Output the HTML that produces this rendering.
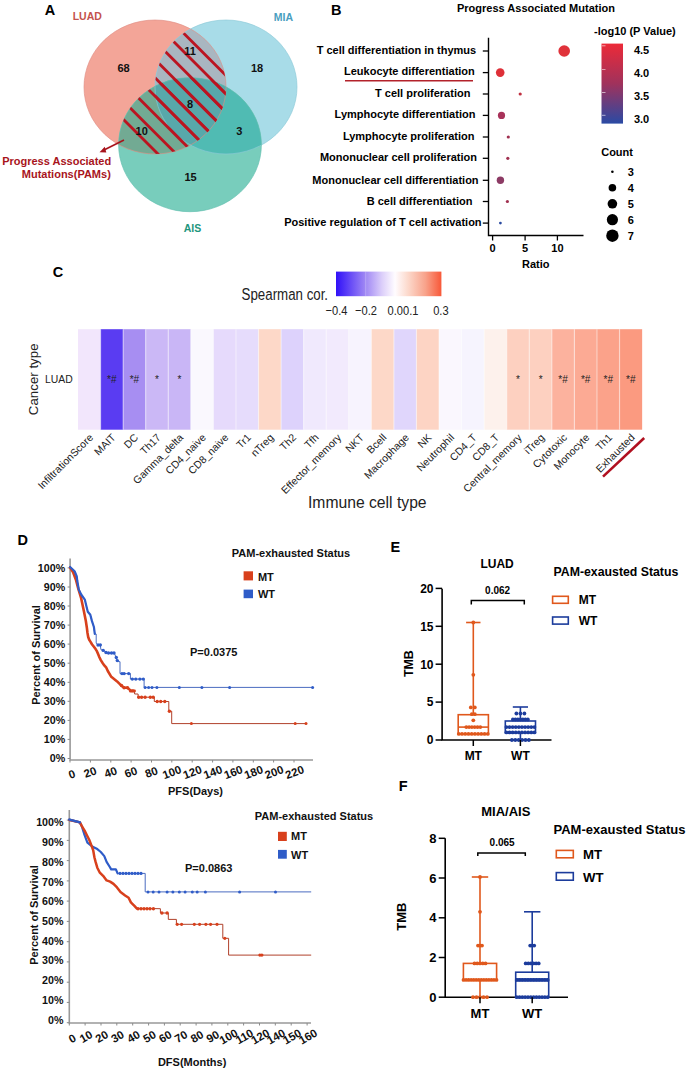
<!DOCTYPE html>
<html><head><meta charset="utf-8"><title>Figure</title>
<style>html,body{margin:0;padding:0;background:#fff;}svg{display:block;}</style>
</head><body>
<svg width="690" height="1070" viewBox="0 0 690 1070" font-family="'Liberation Sans', Arial, sans-serif">
<rect width="690" height="1070" fill="#fff"/>
<defs>
<clipPath id="cL"><ellipse cx="155" cy="87" rx="71" ry="67" fill="#000" /></clipPath>
<clipPath id="cM"><ellipse cx="226" cy="87" rx="71" ry="67" fill="#000" /></clipPath>
<clipPath id="cS"><ellipse cx="190" cy="144.7" rx="71.4" ry="67" fill="#000" /></clipPath>
</defs>
<ellipse cx="155" cy="87" rx="71" ry="67" fill="#f3a598" />
<ellipse cx="226" cy="87" rx="71" ry="67" fill="#a8dce8" />
<ellipse cx="190" cy="144.7" rx="71.4" ry="67" fill="#78cdbc" />
<g clip-path="url(#cL)"><ellipse cx="226" cy="87" rx="71" ry="67" fill="#a9b6c0" /><ellipse cx="190" cy="144.7" rx="71.4" ry="67" fill="#72aa93" /></g>
<g clip-path="url(#cM)"><ellipse cx="190" cy="144.7" rx="71.4" ry="67" fill="#50bbb3" /></g>
<g clip-path="url(#cL)"><g clip-path="url(#cM)"><ellipse cx="190" cy="144.7" rx="71.4" ry="67" fill="#58a8aa" /></g></g>
<ellipse cx="155" cy="87" rx="71" ry="67" fill="none" stroke="#e08e84" stroke-width="0.8" opacity="0.8"/>
<ellipse cx="226" cy="87" rx="71" ry="67" fill="none" stroke="#8ccad8" stroke-width="0.8" opacity="0.8"/>
<ellipse cx="190" cy="144.7" rx="71.4" ry="67" fill="none" stroke="#62beae" stroke-width="0.8" opacity="0.8"/>
<g clip-path="url(#cL)">
<g clip-path="url(#cM)"><g stroke="#bb1420" stroke-width="2.8"><line x1="-56.0" y1="-60.0" x2="264.0" y2="260" /><line x1="-37.7" y1="-60.0" x2="282.3" y2="260" /><line x1="-19.4" y1="-60.0" x2="300.6" y2="260" /><line x1="-1.1" y1="-60.0" x2="318.9" y2="260" /><line x1="17.2" y1="-60.0" x2="337.2" y2="260" /><line x1="35.5" y1="-60.0" x2="355.5" y2="260" /><line x1="53.8" y1="-60.0" x2="373.8" y2="260" /><line x1="72.1" y1="-60.0" x2="392.1" y2="260" /><line x1="90.4" y1="-60.0" x2="410.4" y2="260" /></g></g>
<g clip-path="url(#cS)"><g stroke="#bb1420" stroke-width="2.8"><line x1="-56.0" y1="-60.0" x2="264.0" y2="260" /><line x1="-37.7" y1="-60.0" x2="282.3" y2="260" /><line x1="-19.4" y1="-60.0" x2="300.6" y2="260" /><line x1="-1.1" y1="-60.0" x2="318.9" y2="260" /><line x1="17.2" y1="-60.0" x2="337.2" y2="260" /><line x1="35.5" y1="-60.0" x2="355.5" y2="260" /><line x1="53.8" y1="-60.0" x2="373.8" y2="260" /><line x1="72.1" y1="-60.0" x2="392.1" y2="260" /><line x1="90.4" y1="-60.0" x2="410.4" y2="260" /></g></g>
</g>
<text x="44.7" y="15.2" font-size="14.5" font-weight="bold" text-anchor="start" fill="#000" >A</text>
<text x="72.7" y="19.9" font-size="10.5" font-weight="bold" text-anchor="start" fill="#c4524c" >LUAD</text>
<text x="273.8" y="20.8" font-size="10.5" font-weight="bold" text-anchor="start" fill="#4a9ec0" >MIA</text>
<text x="192.5" y="232.2" font-size="10.5" font-weight="bold" text-anchor="middle" fill="#1f967e" >AIS</text>
<text x="123.6" y="71.9" font-size="11" font-weight="bold" text-anchor="middle" fill="#111" >68</text>
<text x="190.1" y="54.7" font-size="11" font-weight="bold" text-anchor="middle" fill="#111" >11</text>
<text x="257.1" y="71.5" font-size="11" font-weight="bold" text-anchor="middle" fill="#111" >18</text>
<text x="190.1" y="107.9" font-size="11" font-weight="bold" text-anchor="middle" fill="#111" >8</text>
<text x="239.2" y="134.8" font-size="11" font-weight="bold" text-anchor="middle" fill="#111" >3</text>
<text x="141.7" y="134.9" font-size="11" font-weight="bold" text-anchor="middle" fill="#111" >10</text>
<text x="190.5" y="181.0" font-size="11" font-weight="bold" text-anchor="middle" fill="#111" >15</text>
<text x="111.2" y="165.4" font-size="11" font-weight="bold" text-anchor="end" fill="#a8141c" >Progress Associated</text>
<text x="110.8" y="178.2" font-size="11" font-weight="bold" text-anchor="end" fill="#a8141c" >Mutations(PAMs)</text>
<line x1="124" y1="140" x2="103.5" y2="150.3" stroke="#a8141c" stroke-width="1.6"/>
<polygon points="99.5,152.3 104.8,146.7 106.3,152.4" fill="#a8141c"/>
<text x="330.9" y="14.8" font-size="14.5" font-weight="bold" text-anchor="start" fill="#000" >B</text>
<text x="457.0" y="11.8" font-size="11" font-weight="bold" text-anchor="start" fill="#000" >Progress Associated Mutation</text>
<text x="476.2" y="53.6" font-size="11" font-weight="bold" text-anchor="end" fill="#000" >T cell differentiation in thymus</text>
<line x1="482.8" y1="51.0" x2="488.5" y2="51.0" stroke="#000" stroke-width="1.3"/>
<text x="474.8" y="75.2" font-size="11" font-weight="bold" text-anchor="end" fill="#000" >Leukocyte differentiation</text>
<line x1="482.8" y1="72.6" x2="488.5" y2="72.6" stroke="#000" stroke-width="1.3"/>
<text x="470.4" y="96.6" font-size="11" font-weight="bold" text-anchor="end" fill="#000" >T cell proliferation</text>
<line x1="482.8" y1="94.0" x2="488.5" y2="94.0" stroke="#000" stroke-width="1.3"/>
<text x="475.4" y="118.0" font-size="11" font-weight="bold" text-anchor="end" fill="#000" >Lymphocyte differentiation</text>
<line x1="482.8" y1="115.4" x2="488.5" y2="115.4" stroke="#000" stroke-width="1.3"/>
<text x="474.5" y="139.6" font-size="11" font-weight="bold" text-anchor="end" fill="#000" >Lymphocyte proliferation</text>
<line x1="482.8" y1="137.0" x2="488.5" y2="137.0" stroke="#000" stroke-width="1.3"/>
<text x="477.0" y="160.9" font-size="11" font-weight="bold" text-anchor="end" fill="#000" >Mononuclear cell proliferation</text>
<line x1="482.8" y1="158.3" x2="488.5" y2="158.3" stroke="#000" stroke-width="1.3"/>
<text x="478.6" y="184.1" font-size="11" font-weight="bold" text-anchor="end" fill="#000" >Mononuclear cell differentiation</text>
<line x1="482.8" y1="180.3" x2="488.5" y2="180.3" stroke="#000" stroke-width="1.3"/>
<text x="472.4" y="204.8" font-size="11" font-weight="bold" text-anchor="end" fill="#000" >B cell differentiation</text>
<line x1="482.8" y1="201.5" x2="488.5" y2="201.5" stroke="#000" stroke-width="1.3"/>
<text x="481.6" y="225.9" font-size="11" font-weight="bold" text-anchor="end" fill="#000" >Positive regulation of T cell activation</text>
<line x1="482.8" y1="223.1" x2="488.5" y2="223.1" stroke="#000" stroke-width="1.3"/>
<line x1="345" y1="80.7" x2="473" y2="80.7" stroke="#b3222b" stroke-width="1.6"/>
<polyline points="488.5,37.8 488.5,235.5 583.5,235.5" fill="none" stroke="#000" stroke-width="1.4"/>
<line x1="492.6" y1="235.5" x2="492.6" y2="240.5" stroke="#000" stroke-width="1.3"/>
<text x="492.6" y="252.0" font-size="11" font-weight="bold" text-anchor="middle" fill="#000" >0</text>
<line x1="525.1" y1="235.5" x2="525.1" y2="240.5" stroke="#000" stroke-width="1.3"/>
<text x="525.1" y="252.0" font-size="11" font-weight="bold" text-anchor="middle" fill="#000" >5</text>
<line x1="557.4" y1="235.5" x2="557.4" y2="240.5" stroke="#000" stroke-width="1.3"/>
<text x="557.4" y="252.0" font-size="11" font-weight="bold" text-anchor="middle" fill="#000" >10</text>
<text x="535.8" y="268.0" font-size="11" font-weight="bold" text-anchor="middle" fill="#000" >Ratio</text>
<circle cx="564.2" cy="51.0" r="5.8" fill="#e0323a"/>
<circle cx="500.2" cy="72.6" r="4.3" fill="#de3038"/>
<circle cx="520.2" cy="94.0" r="1.6" fill="#c03040"/>
<circle cx="501.5" cy="115.4" r="3.6" fill="#a8325a"/>
<circle cx="508.3" cy="137.0" r="1.6" fill="#a03050"/>
<circle cx="507.8" cy="158.3" r="1.6" fill="#a03050"/>
<circle cx="500.4" cy="180.3" r="3.7" fill="#8c3a64"/>
<circle cx="507.4" cy="201.5" r="1.6" fill="#a03050"/>
<circle cx="500.4" cy="223.1" r="1.4" fill="#2a4aa0"/>
<defs><linearGradient id="gB" x1="0" y1="0" x2="0" y2="1"><stop offset="0" stop-color="#ec2a38"/><stop offset="0.5" stop-color="#a0325c"/><stop offset="1" stop-color="#2a4aa4"/></linearGradient></defs>
<rect x="601.5" y="43.6" width="21.5" height="80" fill="url(#gB)"/>
<line x1="602" y1="45.8" x2="605.5" y2="45.8" stroke="#fff" stroke-width="0.8" opacity="0.75"/>
<line x1="602" y1="69.4" x2="605.5" y2="69.4" stroke="#fff" stroke-width="0.8" opacity="0.75"/>
<line x1="602" y1="92.5" x2="605.5" y2="92.5" stroke="#fff" stroke-width="0.8" opacity="0.75"/>
<line x1="602" y1="115.3" x2="605.5" y2="115.3" stroke="#fff" stroke-width="0.8" opacity="0.75"/>
<text x="594.0" y="35.2" font-size="11" font-weight="bold" text-anchor="start" fill="#000" >-log10 (P Value)</text>
<text x="633.9" y="54.3" font-size="11" font-weight="bold" text-anchor="start" fill="#000" >4.5</text>
<text x="633.9" y="77.4" font-size="11" font-weight="bold" text-anchor="start" fill="#000" >4.0</text>
<text x="633.9" y="100.2" font-size="11" font-weight="bold" text-anchor="start" fill="#000" >3.5</text>
<text x="633.9" y="122.8" font-size="11" font-weight="bold" text-anchor="start" fill="#000" >3.0</text>
<text x="601.2" y="155.5" font-size="11" font-weight="bold" text-anchor="start" fill="#000" >Count</text>
<circle cx="612.4" cy="171.8" r="1.3" fill="#000"/>
<text x="627.8" y="175.8" font-size="11" font-weight="bold" text-anchor="start" fill="#000" >3</text>
<circle cx="612.4" cy="187.7" r="3.8" fill="#000"/>
<text x="627.8" y="191.7" font-size="11" font-weight="bold" text-anchor="start" fill="#000" >4</text>
<circle cx="612.4" cy="203.8" r="4.8" fill="#000"/>
<text x="627.8" y="207.8" font-size="11" font-weight="bold" text-anchor="start" fill="#000" >5</text>
<circle cx="612.4" cy="219.7" r="5.6" fill="#000"/>
<text x="627.8" y="223.7" font-size="11" font-weight="bold" text-anchor="start" fill="#000" >6</text>
<circle cx="612.4" cy="235.7" r="6.2" fill="#000"/>
<text x="627.8" y="239.7" font-size="11" font-weight="bold" text-anchor="start" fill="#000" >7</text>
<text x="52.7" y="277.2" font-size="14.5" font-weight="bold" text-anchor="start" fill="#000" >C</text>
<defs><linearGradient id="gC" x1="0" y1="0" x2="1" y2="0"><stop offset="0" stop-color="#3010f8"/><stop offset="0.28" stop-color="#a088f4"/><stop offset="0.44" stop-color="#ddd0fa"/><stop offset="0.56" stop-color="#fffcff"/><stop offset="0.68" stop-color="#fcdacd"/><stop offset="0.85" stop-color="#f8a28a"/><stop offset="1" stop-color="#f85838"/></linearGradient></defs>
<rect x="336" y="271.6" width="105.4" height="24.6" fill="url(#gC)"/>
<line x1="365.7" y1="271.6" x2="365.7" y2="296.2" stroke="#fff" stroke-width="0.8" opacity="0.3"/>
<text x="0" y="0" font-size="13.3" fill="#222" transform="translate(241.6 300.2) scale(1 1.22)">Spearman cor.</text>
<text x="0" y="0" font-size="11.1" fill="#222" text-anchor="middle" transform="translate(336.5 314.8) scale(1 1.19)">−0.4</text>
<text x="0" y="0" font-size="11.1" fill="#222" text-anchor="middle" transform="translate(366 314.8) scale(1 1.19)">−0.2</text>
<text x="0" y="0" font-size="11.1" fill="#222" text-anchor="middle" transform="translate(403 314.8) scale(1 1.19)">0.00.1</text>
<text x="0" y="0" font-size="11.1" fill="#222" text-anchor="middle" transform="translate(440.9 314.8) scale(1 1.19)">0.3</text>
<rect x="78.00" y="329.2" width="22.61" height="100.5" fill="#f2e6fc"/>
<rect x="100.56" y="329.2" width="22.61" height="100.5" fill="#5a3cf2"/>
<rect x="123.13" y="329.2" width="22.61" height="100.5" fill="#a78ef2"/>
<rect x="145.69" y="329.2" width="22.61" height="100.5" fill="#cbb8f6"/>
<rect x="168.26" y="329.2" width="22.61" height="100.5" fill="#c9b6f6"/>
<rect x="190.82" y="329.2" width="22.61" height="100.5" fill="#faf8fe"/>
<rect x="213.38" y="329.2" width="22.61" height="100.5" fill="#e6dafc"/>
<rect x="235.95" y="329.2" width="22.61" height="100.5" fill="#e6dcfc"/>
<rect x="258.51" y="329.2" width="22.61" height="100.5" fill="#fdd8c8"/>
<rect x="281.08" y="329.2" width="22.61" height="100.5" fill="#ddd2fc"/>
<rect x="303.64" y="329.2" width="22.61" height="100.5" fill="#f0e9fd"/>
<rect x="326.20" y="329.2" width="22.61" height="100.5" fill="#f2eafd"/>
<rect x="348.77" y="329.2" width="22.61" height="100.5" fill="#f7f3fe"/>
<rect x="371.33" y="329.2" width="22.61" height="100.5" fill="#fdd8c8"/>
<rect x="393.90" y="329.2" width="22.61" height="100.5" fill="#e0d6fc"/>
<rect x="416.46" y="329.2" width="22.61" height="100.5" fill="#fdd4c4"/>
<rect x="439.02" y="329.2" width="22.61" height="100.5" fill="#faf7fe"/>
<rect x="461.59" y="329.2" width="22.61" height="100.5" fill="#f6f4fe"/>
<rect x="484.15" y="329.2" width="22.61" height="100.5" fill="#fdf1ec"/>
<rect x="506.72" y="329.2" width="22.61" height="100.5" fill="#fdd0c0"/>
<rect x="529.28" y="329.2" width="22.61" height="100.5" fill="#fdd0c0"/>
<rect x="551.84" y="329.2" width="22.61" height="100.5" fill="#fcb29e"/>
<rect x="574.41" y="329.2" width="22.61" height="100.5" fill="#fcaa94"/>
<rect x="596.97" y="329.2" width="22.61" height="100.5" fill="#fba28a"/>
<rect x="619.54" y="329.2" width="22.61" height="100.5" fill="#fb9a80"/>
<line x1="100.56" y1="329.2" x2="100.56" y2="429.7" stroke="#fff" stroke-width="1.2" opacity="0.45"/>
<line x1="123.13" y1="329.2" x2="123.13" y2="429.7" stroke="#fff" stroke-width="1.2" opacity="0.45"/>
<line x1="145.69" y1="329.2" x2="145.69" y2="429.7" stroke="#fff" stroke-width="1.2" opacity="0.45"/>
<line x1="168.26" y1="329.2" x2="168.26" y2="429.7" stroke="#fff" stroke-width="1.2" opacity="0.45"/>
<line x1="190.82" y1="329.2" x2="190.82" y2="429.7" stroke="#fff" stroke-width="1.2" opacity="0.45"/>
<line x1="213.38" y1="329.2" x2="213.38" y2="429.7" stroke="#fff" stroke-width="1.2" opacity="0.45"/>
<line x1="235.95" y1="329.2" x2="235.95" y2="429.7" stroke="#fff" stroke-width="1.2" opacity="0.45"/>
<line x1="258.51" y1="329.2" x2="258.51" y2="429.7" stroke="#fff" stroke-width="1.2" opacity="0.45"/>
<line x1="281.08" y1="329.2" x2="281.08" y2="429.7" stroke="#fff" stroke-width="1.2" opacity="0.45"/>
<line x1="303.64" y1="329.2" x2="303.64" y2="429.7" stroke="#fff" stroke-width="1.2" opacity="0.45"/>
<line x1="326.20" y1="329.2" x2="326.20" y2="429.7" stroke="#fff" stroke-width="1.2" opacity="0.45"/>
<line x1="348.77" y1="329.2" x2="348.77" y2="429.7" stroke="#fff" stroke-width="1.2" opacity="0.45"/>
<line x1="371.33" y1="329.2" x2="371.33" y2="429.7" stroke="#fff" stroke-width="1.2" opacity="0.45"/>
<line x1="393.90" y1="329.2" x2="393.90" y2="429.7" stroke="#fff" stroke-width="1.2" opacity="0.45"/>
<line x1="416.46" y1="329.2" x2="416.46" y2="429.7" stroke="#fff" stroke-width="1.2" opacity="0.45"/>
<line x1="439.02" y1="329.2" x2="439.02" y2="429.7" stroke="#fff" stroke-width="1.2" opacity="0.45"/>
<line x1="461.59" y1="329.2" x2="461.59" y2="429.7" stroke="#fff" stroke-width="1.2" opacity="0.45"/>
<line x1="484.15" y1="329.2" x2="484.15" y2="429.7" stroke="#fff" stroke-width="1.2" opacity="0.45"/>
<line x1="506.72" y1="329.2" x2="506.72" y2="429.7" stroke="#fff" stroke-width="1.2" opacity="0.45"/>
<line x1="529.28" y1="329.2" x2="529.28" y2="429.7" stroke="#fff" stroke-width="1.2" opacity="0.45"/>
<line x1="551.84" y1="329.2" x2="551.84" y2="429.7" stroke="#fff" stroke-width="1.2" opacity="0.45"/>
<line x1="574.41" y1="329.2" x2="574.41" y2="429.7" stroke="#fff" stroke-width="1.2" opacity="0.45"/>
<line x1="596.97" y1="329.2" x2="596.97" y2="429.7" stroke="#fff" stroke-width="1.2" opacity="0.45"/>
<line x1="619.54" y1="329.2" x2="619.54" y2="429.7" stroke="#fff" stroke-width="1.2" opacity="0.45"/>
<text x="111.8" y="383.0" font-size="10" font-weight="normal" text-anchor="middle" fill="#222" >*#</text>
<text x="134.4" y="383.0" font-size="10" font-weight="normal" text-anchor="middle" fill="#222" >*#</text>
<text x="157.0" y="383.0" font-size="10" font-weight="normal" text-anchor="middle" fill="#222" >*</text>
<text x="179.5" y="383.0" font-size="10" font-weight="normal" text-anchor="middle" fill="#222" >*</text>
<text x="518.0" y="383.0" font-size="10" font-weight="normal" text-anchor="middle" fill="#222" >*</text>
<text x="540.6" y="383.0" font-size="10" font-weight="normal" text-anchor="middle" fill="#222" >*</text>
<text x="563.1" y="383.0" font-size="10" font-weight="normal" text-anchor="middle" fill="#222" >*#</text>
<text x="585.7" y="383.0" font-size="10" font-weight="normal" text-anchor="middle" fill="#222" >*#</text>
<text x="608.3" y="383.0" font-size="10" font-weight="normal" text-anchor="middle" fill="#222" >*#</text>
<text x="630.8" y="383.0" font-size="10" font-weight="normal" text-anchor="middle" fill="#222" >*#</text>
<text x="72.7" y="383.0" font-size="10.4" font-weight="normal" text-anchor="end" fill="#222" >LUAD</text>
<text x="0" y="0" font-size="13.3" font-weight="normal" text-anchor="middle" fill="#222" transform="translate(38.3 379.3) rotate(-90)">Cancer type</text>
<text x="0" y="0" font-size="10.5" font-weight="normal" text-anchor="end" fill="#222" transform="translate(93.8 438.2) rotate(-45)">InfiltrationScore</text>
<text x="0" y="0" font-size="10.5" font-weight="normal" text-anchor="end" fill="#222" transform="translate(116.3 438.2) rotate(-45)">MAIT</text>
<text x="0" y="0" font-size="10.5" font-weight="normal" text-anchor="end" fill="#222" transform="translate(138.9 438.2) rotate(-45)">DC</text>
<text x="0" y="0" font-size="10.5" font-weight="normal" text-anchor="end" fill="#222" transform="translate(161.5 438.2) rotate(-45)">Th17</text>
<text x="0" y="0" font-size="10.5" font-weight="normal" text-anchor="end" fill="#222" transform="translate(184.0 438.2) rotate(-45)">Gamma_delta</text>
<text x="0" y="0" font-size="10.5" font-weight="normal" text-anchor="end" fill="#222" transform="translate(206.6 438.2) rotate(-45)">CD4_naive</text>
<text x="0" y="0" font-size="10.5" font-weight="normal" text-anchor="end" fill="#222" transform="translate(229.2 438.2) rotate(-45)">CD8_naive</text>
<text x="0" y="0" font-size="10.5" font-weight="normal" text-anchor="end" fill="#222" transform="translate(251.7 438.2) rotate(-45)">Tr1</text>
<text x="0" y="0" font-size="10.5" font-weight="normal" text-anchor="end" fill="#222" transform="translate(274.3 438.2) rotate(-45)">nTreg</text>
<text x="0" y="0" font-size="10.5" font-weight="normal" text-anchor="end" fill="#222" transform="translate(296.9 438.2) rotate(-45)">Th2</text>
<text x="0" y="0" font-size="10.5" font-weight="normal" text-anchor="end" fill="#222" transform="translate(319.4 438.2) rotate(-45)">Tfh</text>
<text x="0" y="0" font-size="10.5" font-weight="normal" text-anchor="end" fill="#222" transform="translate(342.0 438.2) rotate(-45)">Effector_memory</text>
<text x="0" y="0" font-size="10.5" font-weight="normal" text-anchor="end" fill="#222" transform="translate(364.6 438.2) rotate(-45)">NKT</text>
<text x="0" y="0" font-size="10.5" font-weight="normal" text-anchor="end" fill="#222" transform="translate(387.1 438.2) rotate(-45)">Bcell</text>
<text x="0" y="0" font-size="10.5" font-weight="normal" text-anchor="end" fill="#222" transform="translate(409.7 438.2) rotate(-45)">Macrophage</text>
<text x="0" y="0" font-size="10.5" font-weight="normal" text-anchor="end" fill="#222" transform="translate(432.2 438.2) rotate(-45)">NK</text>
<text x="0" y="0" font-size="10.5" font-weight="normal" text-anchor="end" fill="#222" transform="translate(454.8 438.2) rotate(-45)">Neutrophil</text>
<text x="0" y="0" font-size="10.5" font-weight="normal" text-anchor="end" fill="#222" transform="translate(477.4 438.2) rotate(-45)">CD4_T</text>
<text x="0" y="0" font-size="10.5" font-weight="normal" text-anchor="end" fill="#222" transform="translate(499.9 438.2) rotate(-45)">CD8_T</text>
<text x="0" y="0" font-size="10.5" font-weight="normal" text-anchor="end" fill="#222" transform="translate(522.5 438.2) rotate(-45)">Central_memory</text>
<text x="0" y="0" font-size="10.5" font-weight="normal" text-anchor="end" fill="#222" transform="translate(545.1 438.2) rotate(-45)">iTreg</text>
<text x="0" y="0" font-size="10.5" font-weight="normal" text-anchor="end" fill="#222" transform="translate(567.6 438.2) rotate(-45)">Cytotoxic</text>
<text x="0" y="0" font-size="10.5" font-weight="normal" text-anchor="end" fill="#222" transform="translate(590.2 438.2) rotate(-45)">Monocyte</text>
<text x="0" y="0" font-size="10.5" font-weight="normal" text-anchor="end" fill="#222" transform="translate(612.8 438.2) rotate(-45)">Th1</text>
<text x="0" y="0" font-size="10.5" font-weight="normal" text-anchor="end" fill="#222" transform="translate(635.3 438.2) rotate(-45)">Exhausted</text>
<text x="308.0" y="507.8" font-size="15.7" font-weight="normal" text-anchor="start" fill="#222" >Immune cell type</text>
<line x1="603" y1="476.6" x2="644.2" y2="438" stroke="#b01020" stroke-width="2.6"/>
<text x="17.4" y="545.4" font-size="14.5" font-weight="bold" text-anchor="start" fill="#000" >D</text>
<polyline points="70.1,558.4 70.1,760 313,760" fill="none" stroke="#999" stroke-width="1.6"/>
<text x="65.2" y="571.8" font-size="10.7" font-weight="bold" text-anchor="end" fill="#111" >100%</text>
<line x1="67.6" y1="567.9" x2="70.1" y2="567.9" stroke="#8a8a8a" stroke-width="1"/>
<text x="65.2" y="590.9" font-size="10.7" font-weight="bold" text-anchor="end" fill="#111" >90%</text>
<line x1="67.6" y1="587.0" x2="70.1" y2="587.0" stroke="#8a8a8a" stroke-width="1"/>
<text x="65.2" y="609.9" font-size="10.7" font-weight="bold" text-anchor="end" fill="#111" >80%</text>
<line x1="67.6" y1="606.0" x2="70.1" y2="606.0" stroke="#8a8a8a" stroke-width="1"/>
<text x="65.2" y="629.0" font-size="10.7" font-weight="bold" text-anchor="end" fill="#111" >70%</text>
<line x1="67.6" y1="625.1" x2="70.1" y2="625.1" stroke="#8a8a8a" stroke-width="1"/>
<text x="65.2" y="648.0" font-size="10.7" font-weight="bold" text-anchor="end" fill="#111" >60%</text>
<line x1="67.6" y1="644.1" x2="70.1" y2="644.1" stroke="#8a8a8a" stroke-width="1"/>
<text x="65.2" y="667.1" font-size="10.7" font-weight="bold" text-anchor="end" fill="#111" >50%</text>
<line x1="67.6" y1="663.2" x2="70.1" y2="663.2" stroke="#8a8a8a" stroke-width="1"/>
<text x="65.2" y="686.2" font-size="10.7" font-weight="bold" text-anchor="end" fill="#111" >40%</text>
<line x1="67.6" y1="682.3" x2="70.1" y2="682.3" stroke="#8a8a8a" stroke-width="1"/>
<text x="65.2" y="705.2" font-size="10.7" font-weight="bold" text-anchor="end" fill="#111" >30%</text>
<line x1="67.6" y1="701.3" x2="70.1" y2="701.3" stroke="#8a8a8a" stroke-width="1"/>
<text x="65.2" y="724.3" font-size="10.7" font-weight="bold" text-anchor="end" fill="#111" >20%</text>
<line x1="67.6" y1="720.4" x2="70.1" y2="720.4" stroke="#8a8a8a" stroke-width="1"/>
<text x="65.2" y="743.3" font-size="10.7" font-weight="bold" text-anchor="end" fill="#111" >10%</text>
<line x1="67.6" y1="739.4" x2="70.1" y2="739.4" stroke="#8a8a8a" stroke-width="1"/>
<text x="65.2" y="762.4" font-size="10.7" font-weight="bold" text-anchor="end" fill="#111" >0%</text>
<line x1="67.6" y1="758.5" x2="70.1" y2="758.5" stroke="#8a8a8a" stroke-width="1"/>
<line x1="70.0" y1="760" x2="70.0" y2="762.5" stroke="#8a8a8a" stroke-width="1"/>
<text x="0" y="0" font-size="11.4" font-weight="bold" text-anchor="middle" fill="#111" transform="translate(73.2 777.9) rotate(-20)">0</text>
<line x1="90.4" y1="760" x2="90.4" y2="762.5" stroke="#8a8a8a" stroke-width="1"/>
<text x="0" y="0" font-size="11.4" font-weight="bold" text-anchor="middle" fill="#111" transform="translate(91.5 775.9) rotate(-20)">20</text>
<line x1="110.8" y1="760" x2="110.8" y2="762.5" stroke="#8a8a8a" stroke-width="1"/>
<text x="0" y="0" font-size="11.4" font-weight="bold" text-anchor="middle" fill="#111" transform="translate(111.9 775.9) rotate(-20)">40</text>
<line x1="131.1" y1="760" x2="131.1" y2="762.5" stroke="#8a8a8a" stroke-width="1"/>
<text x="0" y="0" font-size="11.4" font-weight="bold" text-anchor="middle" fill="#111" transform="translate(132.3 775.9) rotate(-20)">60</text>
<line x1="151.5" y1="760" x2="151.5" y2="762.5" stroke="#8a8a8a" stroke-width="1"/>
<text x="0" y="0" font-size="11.4" font-weight="bold" text-anchor="middle" fill="#111" transform="translate(152.8 775.9) rotate(-20)">80</text>
<line x1="171.8" y1="760" x2="171.8" y2="762.5" stroke="#8a8a8a" stroke-width="1"/>
<text x="0" y="0" font-size="11.4" font-weight="bold" text-anchor="middle" fill="#111" transform="translate(173.2 775.9) rotate(-20)">100</text>
<line x1="192.2" y1="760" x2="192.2" y2="762.5" stroke="#8a8a8a" stroke-width="1"/>
<text x="0" y="0" font-size="11.4" font-weight="bold" text-anchor="middle" fill="#111" transform="translate(193.7 775.9) rotate(-20)">120</text>
<line x1="212.6" y1="760" x2="212.6" y2="762.5" stroke="#8a8a8a" stroke-width="1"/>
<text x="0" y="0" font-size="11.4" font-weight="bold" text-anchor="middle" fill="#111" transform="translate(214.2 775.9) rotate(-20)">140</text>
<line x1="232.9" y1="760" x2="232.9" y2="762.5" stroke="#8a8a8a" stroke-width="1"/>
<text x="0" y="0" font-size="11.4" font-weight="bold" text-anchor="middle" fill="#111" transform="translate(234.6 775.9) rotate(-20)">160</text>
<line x1="253.3" y1="760" x2="253.3" y2="762.5" stroke="#8a8a8a" stroke-width="1"/>
<text x="0" y="0" font-size="11.4" font-weight="bold" text-anchor="middle" fill="#111" transform="translate(255.0 775.9) rotate(-20)">180</text>
<line x1="273.6" y1="760" x2="273.6" y2="762.5" stroke="#8a8a8a" stroke-width="1"/>
<text x="0" y="0" font-size="11.4" font-weight="bold" text-anchor="middle" fill="#111" transform="translate(275.5 775.9) rotate(-20)">200</text>
<line x1="294.0" y1="760" x2="294.0" y2="762.5" stroke="#8a8a8a" stroke-width="1"/>
<text x="0" y="0" font-size="11.4" font-weight="bold" text-anchor="middle" fill="#111" transform="translate(295.9 775.9) rotate(-20)">220</text>
<text x="0" y="0" font-size="11" font-weight="bold" text-anchor="middle" fill="#111" transform="translate(40 655) rotate(-90)">Percent of Survival</text>
<text x="168.0" y="795.0" font-size="11" font-weight="bold" text-anchor="start" fill="#111" >PFS(Days)</text>
<text x="231.8" y="557.0" font-size="11" font-weight="bold" text-anchor="start" fill="#111" >PAM-exhausted Status</text>
<rect x="243.6" y="571.3" width="9.4" height="9.1" fill="#d8401c"/>
<rect x="243.6" y="589.6" width="9.4" height="8.6" fill="#2f5cc8"/>
<text x="257.9" y="580.5" font-size="11" font-weight="bold" text-anchor="start" fill="#111" >MT</text>
<text x="257.9" y="598.0" font-size="11" font-weight="bold" text-anchor="start" fill="#111" >WT</text>
<text x="190.0" y="656.2" font-size="11" font-weight="bold" text-anchor="start" fill="#111" >P=0.0375</text>
<polyline points="70.1,567.6 73.1,572.2 76.1,580.3 78.2,588.4 81.2,598.5 83.8,610.7 85.8,620.8 86.9,628 87.5,633 88.2,637 89.2,639.8 90.4,641.6 92.1,644.5 93.9,646.8 95.6,649.1 97,651.4 98.2,654.3 99.4,657.2 100.8,660.1 102.6,663 104.3,665.4 106.3,667.7 107.8,671 111.3,676.8 117.1,681.4 120.6,684.9 124.1,687.8 127.5,687.8 131,690.9 134.6,690.9 134.6,694 138.1,694 138.1,697.2 154.3,697.2 154.3,701.5 168.8,701.5 168.8,711.2 171.7,711.2 171.7,723.6 306.5,723.6" fill="none" stroke="#b0402a" stroke-width="1.0"/>
<polyline points="70.1,567 74.6,571.2 76.7,576.2 77.2,580.3 78.7,589.4 81.2,594.5 84.8,599.6 86.3,605.7 87.8,611.7 90.3,614.8 91.9,620.9 93.9,627 94.8,633.9 96.2,634 96.2,643.2 98,645 100.3,645 100.9,649.6 103.2,650.4 107.8,653 114.2,653 116,657.1 117.1,660.6 118.8,661.7 120,661.7 120,673.6 130.4,673.6 130.4,679.1 144.1,679.1 144.1,687.4 312.6,687.4" fill="none" stroke="#4a6cc0" stroke-width="1.0"/>
<polyline points="70.1,567.6 73.1,572.2 76.1,580.3 78.2,588.4 81.2,598.5 83.8,610.7 85.8,620.8 86.9,628 87.5,633 88.2,637 89.2,639.8 90.4,641.6 92.1,644.5 93.9,646.8 95.6,649.1 97,651.4 98.2,654.3 99.4,657.2 100.8,660.1 102.6,663 104.3,665.4 106.3,667.7 107.8,671 111.3,676.8 117.1,681.4 120.6,684.9 124.1,687.8 127.5,687.8 131,690.9 134.6,690.9" fill="none" stroke="#d8401c" stroke-width="2.6" stroke-linejoin="round" stroke-linecap="round"/>
<polyline points="70.1,567 74.6,571.2 76.7,576.2 77.2,580.3 78.7,589.4 81.2,594.5 84.8,599.6 86.3,605.7 87.8,611.7 90.3,614.8 91.9,620.9 93.9,627 94.8,633.9" fill="none" stroke="#2f5cc8" stroke-width="2.2" stroke-linejoin="round" stroke-linecap="round"/>
<circle cx="98" cy="645" r="1.7" fill="#2f5cc8"/>
<circle cx="100.3" cy="645" r="1.7" fill="#2f5cc8"/>
<circle cx="103.2" cy="650.4" r="1.7" fill="#2f5cc8"/>
<circle cx="106" cy="652.5" r="1.7" fill="#2f5cc8"/>
<circle cx="108.5" cy="653" r="1.7" fill="#2f5cc8"/>
<circle cx="111.5" cy="653" r="1.7" fill="#2f5cc8"/>
<circle cx="114" cy="653" r="1.7" fill="#2f5cc8"/>
<circle cx="116.3" cy="657.5" r="1.7" fill="#2f5cc8"/>
<circle cx="117.3" cy="660.6" r="1.7" fill="#2f5cc8"/>
<circle cx="124.1" cy="673.6" r="1.7" fill="#2f5cc8"/>
<circle cx="128.7" cy="673.6" r="1.7" fill="#2f5cc8"/>
<circle cx="122" cy="673.6" r="1.7" fill="#2f5cc8"/>
<circle cx="132.3" cy="679.1" r="1.7" fill="#2f5cc8"/>
<circle cx="135.8" cy="679.1" r="1.7" fill="#2f5cc8"/>
<circle cx="139.9" cy="679.1" r="1.7" fill="#2f5cc8"/>
<circle cx="143.3" cy="679.1" r="1.7" fill="#2f5cc8"/>
<circle cx="145.1" cy="687.4" r="1.5" fill="#2f5cc8"/>
<circle cx="148.6" cy="687.4" r="1.5" fill="#2f5cc8"/>
<circle cx="152" cy="687.4" r="1.5" fill="#2f5cc8"/>
<circle cx="156.9" cy="687.4" r="1.5" fill="#2f5cc8"/>
<circle cx="179.3" cy="687.4" r="1.5" fill="#2f5cc8"/>
<circle cx="201.9" cy="687.4" r="1.5" fill="#2f5cc8"/>
<circle cx="229.6" cy="687.4" r="1.5" fill="#2f5cc8"/>
<circle cx="312.6" cy="687.4" r="1.5" fill="#2f5cc8"/>
<circle cx="121.5" cy="685.5" r="1.7" fill="#d8401c"/>
<circle cx="124.1" cy="687.8" r="1.7" fill="#d8401c"/>
<circle cx="127.5" cy="687.8" r="1.7" fill="#d8401c"/>
<circle cx="130.6" cy="690.9" r="1.7" fill="#d8401c"/>
<circle cx="132.9" cy="690.9" r="1.7" fill="#d8401c"/>
<circle cx="138.7" cy="697.2" r="1.7" fill="#d8401c"/>
<circle cx="141.6" cy="697.2" r="1.7" fill="#d8401c"/>
<circle cx="145.1" cy="697.2" r="1.7" fill="#d8401c"/>
<circle cx="150.3" cy="697.2" r="1.7" fill="#d8401c"/>
<circle cx="153.2" cy="697.2" r="1.7" fill="#d8401c"/>
<circle cx="157.2" cy="701.5" r="1.7" fill="#d8401c"/>
<circle cx="160.7" cy="701.5" r="1.7" fill="#d8401c"/>
<circle cx="164.8" cy="701.5" r="1.7" fill="#d8401c"/>
<circle cx="169.4" cy="711.2" r="1.7" fill="#d8401c"/>
<circle cx="191.4" cy="723.6" r="1.5" fill="#d8401c"/>
<circle cx="295.2" cy="723.6" r="1.5" fill="#d8401c"/>
<circle cx="306" cy="723.6" r="1.5" fill="#d8401c"/>
<polyline points="69.3,810 69.3,1023 311,1023" fill="none" stroke="#999" stroke-width="1.6"/>
<text x="63.5" y="826.3" font-size="10.7" font-weight="bold" text-anchor="end" fill="#111" >100%</text>
<line x1="66.8" y1="820.1" x2="69.3" y2="820.1" stroke="#8a8a8a" stroke-width="1"/>
<text x="63.5" y="846.0" font-size="10.7" font-weight="bold" text-anchor="end" fill="#111" >90%</text>
<line x1="66.8" y1="840.4" x2="69.3" y2="840.4" stroke="#8a8a8a" stroke-width="1"/>
<text x="63.5" y="865.7" font-size="10.7" font-weight="bold" text-anchor="end" fill="#111" >80%</text>
<line x1="66.8" y1="860.6" x2="69.3" y2="860.6" stroke="#8a8a8a" stroke-width="1"/>
<text x="63.5" y="885.5" font-size="10.7" font-weight="bold" text-anchor="end" fill="#111" >70%</text>
<line x1="66.8" y1="880.9" x2="69.3" y2="880.9" stroke="#8a8a8a" stroke-width="1"/>
<text x="63.5" y="905.2" font-size="10.7" font-weight="bold" text-anchor="end" fill="#111" >60%</text>
<line x1="66.8" y1="901.1" x2="69.3" y2="901.1" stroke="#8a8a8a" stroke-width="1"/>
<text x="63.5" y="924.9" font-size="10.7" font-weight="bold" text-anchor="end" fill="#111" >50%</text>
<line x1="66.8" y1="921.4" x2="69.3" y2="921.4" stroke="#8a8a8a" stroke-width="1"/>
<text x="63.5" y="944.6" font-size="10.7" font-weight="bold" text-anchor="end" fill="#111" >40%</text>
<line x1="66.8" y1="941.7" x2="69.3" y2="941.7" stroke="#8a8a8a" stroke-width="1"/>
<text x="63.5" y="964.3" font-size="10.7" font-weight="bold" text-anchor="end" fill="#111" >30%</text>
<line x1="66.8" y1="961.9" x2="69.3" y2="961.9" stroke="#8a8a8a" stroke-width="1"/>
<text x="63.5" y="984.1" font-size="10.7" font-weight="bold" text-anchor="end" fill="#111" >20%</text>
<line x1="66.8" y1="982.2" x2="69.3" y2="982.2" stroke="#8a8a8a" stroke-width="1"/>
<text x="63.5" y="1003.8" font-size="10.7" font-weight="bold" text-anchor="end" fill="#111" >10%</text>
<line x1="66.8" y1="1002.4" x2="69.3" y2="1002.4" stroke="#8a8a8a" stroke-width="1"/>
<text x="63.5" y="1023.5" font-size="10.7" font-weight="bold" text-anchor="end" fill="#111" >0%</text>
<line x1="66.8" y1="1022.7" x2="69.3" y2="1022.7" stroke="#8a8a8a" stroke-width="1"/>
<line x1="69.3" y1="1023" x2="69.3" y2="1025.5" stroke="#8a8a8a" stroke-width="1"/>
<text x="0" y="0" font-size="11.4" font-weight="bold" text-anchor="middle" fill="#111" transform="translate(74.3 1042.0) rotate(-30)">0</text>
<line x1="85.1" y1="1023" x2="85.1" y2="1025.5" stroke="#8a8a8a" stroke-width="1"/>
<text x="0" y="0" font-size="11.4" font-weight="bold" text-anchor="middle" fill="#111" transform="translate(87.9 1040.0) rotate(-30)">10</text>
<line x1="101.0" y1="1023" x2="101.0" y2="1025.5" stroke="#8a8a8a" stroke-width="1"/>
<text x="0" y="0" font-size="11.4" font-weight="bold" text-anchor="middle" fill="#111" transform="translate(103.8 1040.0) rotate(-30)">20</text>
<line x1="116.8" y1="1023" x2="116.8" y2="1025.5" stroke="#8a8a8a" stroke-width="1"/>
<text x="0" y="0" font-size="11.4" font-weight="bold" text-anchor="middle" fill="#111" transform="translate(119.6 1040.0) rotate(-30)">30</text>
<line x1="132.7" y1="1023" x2="132.7" y2="1025.5" stroke="#8a8a8a" stroke-width="1"/>
<text x="0" y="0" font-size="11.4" font-weight="bold" text-anchor="middle" fill="#111" transform="translate(135.5 1040.0) rotate(-30)">40</text>
<line x1="148.6" y1="1023" x2="148.6" y2="1025.5" stroke="#8a8a8a" stroke-width="1"/>
<text x="0" y="0" font-size="11.4" font-weight="bold" text-anchor="middle" fill="#111" transform="translate(151.4 1040.0) rotate(-30)">50</text>
<line x1="164.4" y1="1023" x2="164.4" y2="1025.5" stroke="#8a8a8a" stroke-width="1"/>
<text x="0" y="0" font-size="11.4" font-weight="bold" text-anchor="middle" fill="#111" transform="translate(167.2 1040.0) rotate(-30)">60</text>
<line x1="180.2" y1="1023" x2="180.2" y2="1025.5" stroke="#8a8a8a" stroke-width="1"/>
<text x="0" y="0" font-size="11.4" font-weight="bold" text-anchor="middle" fill="#111" transform="translate(183.1 1040.0) rotate(-30)">70</text>
<line x1="196.1" y1="1023" x2="196.1" y2="1025.5" stroke="#8a8a8a" stroke-width="1"/>
<text x="0" y="0" font-size="11.4" font-weight="bold" text-anchor="middle" fill="#111" transform="translate(198.9 1040.0) rotate(-30)">80</text>
<line x1="211.9" y1="1023" x2="211.9" y2="1025.5" stroke="#8a8a8a" stroke-width="1"/>
<text x="0" y="0" font-size="11.4" font-weight="bold" text-anchor="middle" fill="#111" transform="translate(214.8 1040.0) rotate(-30)">90</text>
<line x1="227.8" y1="1023" x2="227.8" y2="1025.5" stroke="#8a8a8a" stroke-width="1"/>
<text x="0" y="0" font-size="11.4" font-weight="bold" text-anchor="middle" fill="#111" transform="translate(230.6 1040.0) rotate(-30)">100</text>
<line x1="243.6" y1="1023" x2="243.6" y2="1025.5" stroke="#8a8a8a" stroke-width="1"/>
<text x="0" y="0" font-size="11.4" font-weight="bold" text-anchor="middle" fill="#111" transform="translate(246.4 1040.0) rotate(-30)">110</text>
<line x1="259.5" y1="1023" x2="259.5" y2="1025.5" stroke="#8a8a8a" stroke-width="1"/>
<text x="0" y="0" font-size="11.4" font-weight="bold" text-anchor="middle" fill="#111" transform="translate(262.3 1040.0) rotate(-30)">120</text>
<line x1="275.3" y1="1023" x2="275.3" y2="1025.5" stroke="#8a8a8a" stroke-width="1"/>
<text x="0" y="0" font-size="11.4" font-weight="bold" text-anchor="middle" fill="#111" transform="translate(278.1 1040.0) rotate(-30)">140</text>
<line x1="291.2" y1="1023" x2="291.2" y2="1025.5" stroke="#8a8a8a" stroke-width="1"/>
<text x="0" y="0" font-size="11.4" font-weight="bold" text-anchor="middle" fill="#111" transform="translate(294.0 1040.0) rotate(-30)">150</text>
<line x1="307.1" y1="1023" x2="307.1" y2="1025.5" stroke="#8a8a8a" stroke-width="1"/>
<text x="0" y="0" font-size="11.4" font-weight="bold" text-anchor="middle" fill="#111" transform="translate(309.9 1040.0) rotate(-30)">160</text>
<text x="0" y="0" font-size="11" font-weight="bold" text-anchor="middle" fill="#111" transform="translate(38 915) rotate(-90)">Percent of Survival</text>
<text x="157.9" y="1066.0" font-size="11" font-weight="bold" text-anchor="start" fill="#111" >DFS(Months)</text>
<text x="254.8" y="819.5" font-size="11" font-weight="bold" text-anchor="start" fill="#111" >PAM-exhausted Status</text>
<rect x="278" y="831.8" width="8.8" height="9.2" fill="#d8401c"/>
<rect x="278" y="849.9" width="8.8" height="8.8" fill="#2f5cc8"/>
<text x="291.0" y="840.4" font-size="11" font-weight="bold" text-anchor="start" fill="#111" >MT</text>
<text x="291.0" y="859.2" font-size="11" font-weight="bold" text-anchor="start" fill="#111" >WT</text>
<text x="185.0" y="871.8" font-size="11" font-weight="bold" text-anchor="start" fill="#111" >P=0.0863</text>
<polyline points="69.3,820 79.9,822.4 81.7,825.9 84.6,830.6 86.9,835.2 89.2,839.8 91.5,845.6 93.2,850.3 94.4,857.2 95.6,861.9 97.3,867.7 99.6,872.3 103.1,875.8 106.6,880.4 110.1,881.6 113.5,883.9 117,887.4 120.5,892 125.1,895.5 128.6,897.8 130.9,902.4 134.4,905.9 136.7,908.4 160.4,908.7 160.4,913 168.3,913 168.3,919.4 176.4,919.4 176.4,924.3 222.8,924.3 222.8,938.3 228.6,938.3 228.6,955.1 311.2,955.1" fill="none" stroke="#b0402a" stroke-width="1.0"/>
<polyline points="69.3,819.6 79.9,822.4 81.7,825.9 84.6,835.2 87.4,842.7 92.7,846.8 97.3,849.1 100.8,852 104.3,856.1 106.6,861.9 109.5,866.5 111.2,869.4 115.9,869.4 117.6,873.4 145.2,873.4 145.2,891.9 311.2,891.9" fill="none" stroke="#4a6cc0" stroke-width="1.0"/>
<polyline points="69.3,819.6 79.9,822.4 81.7,825.9 84.6,835.2 87.4,842.7 92.7,846.8 97.3,849.1 100.8,852 104.3,856.1 106.6,861.9 109.5,866.5 111.2,869.4 115.9,869.4 117.6,873.4" fill="none" stroke="#2f5cc8" stroke-width="2.2" stroke-linejoin="round" stroke-linecap="round"/>
<polyline points="69.3,820 79.9,822.4 81.7,825.9 84.6,830.6 86.9,835.2 89.2,839.8 91.5,845.6 93.2,850.3 94.4,857.2 95.6,861.9 97.3,867.7 99.6,872.3 103.1,875.8 106.6,880.4 110.1,881.6 113.5,883.9 117,887.4 120.5,892 125.1,895.5 128.6,897.8 130.9,902.4 134.4,905.9 136.7,908.4" fill="none" stroke="#d8401c" stroke-width="2.5" stroke-linejoin="round" stroke-linecap="round"/>
<polyline points="69.3,819.6 79.9,822.4" fill="none" stroke="#2f5cc8" stroke-width="2.4" stroke-linejoin="round" stroke-linecap="round"/>
<circle cx="120" cy="873.4" r="1.6" fill="#2f5cc8"/>
<circle cx="123" cy="873.4" r="1.6" fill="#2f5cc8"/>
<circle cx="126" cy="873.4" r="1.6" fill="#2f5cc8"/>
<circle cx="129" cy="873.4" r="1.6" fill="#2f5cc8"/>
<circle cx="132" cy="873.4" r="1.6" fill="#2f5cc8"/>
<circle cx="135" cy="873.4" r="1.6" fill="#2f5cc8"/>
<circle cx="138" cy="873.4" r="1.6" fill="#2f5cc8"/>
<circle cx="141" cy="873.4" r="1.6" fill="#2f5cc8"/>
<circle cx="148" cy="891.9" r="1.5" fill="#2f5cc8"/>
<circle cx="153.2" cy="891.9" r="1.5" fill="#2f5cc8"/>
<circle cx="159" cy="891.9" r="1.5" fill="#2f5cc8"/>
<circle cx="167.1" cy="891.9" r="1.5" fill="#2f5cc8"/>
<circle cx="172.9" cy="891.9" r="1.5" fill="#2f5cc8"/>
<circle cx="179.3" cy="891.9" r="1.5" fill="#2f5cc8"/>
<circle cx="185.1" cy="891.9" r="1.5" fill="#2f5cc8"/>
<circle cx="192.3" cy="891.9" r="1.5" fill="#2f5cc8"/>
<circle cx="197.2" cy="891.9" r="1.5" fill="#2f5cc8"/>
<circle cx="205.4" cy="891.9" r="1.5" fill="#2f5cc8"/>
<circle cx="239.6" cy="891.9" r="1.5" fill="#2f5cc8"/>
<circle cx="275.5" cy="891.9" r="1.5" fill="#2f5cc8"/>
<circle cx="138" cy="908.7" r="1.7" fill="#d8401c"/>
<circle cx="141" cy="908.7" r="1.7" fill="#d8401c"/>
<circle cx="144" cy="908.7" r="1.7" fill="#d8401c"/>
<circle cx="147" cy="908.7" r="1.7" fill="#d8401c"/>
<circle cx="150" cy="908.7" r="1.7" fill="#d8401c"/>
<circle cx="153.4" cy="908.7" r="1.7" fill="#d8401c"/>
<circle cx="161.9" cy="913" r="1.7" fill="#d8401c"/>
<circle cx="167.1" cy="913" r="1.7" fill="#d8401c"/>
<circle cx="177.2" cy="924.3" r="1.6" fill="#d8401c"/>
<circle cx="181.6" cy="924.3" r="1.6" fill="#d8401c"/>
<circle cx="194.3" cy="924.3" r="1.6" fill="#d8401c"/>
<circle cx="199.6" cy="924.3" r="1.6" fill="#d8401c"/>
<circle cx="205.9" cy="924.3" r="1.6" fill="#d8401c"/>
<circle cx="210.6" cy="924.3" r="1.6" fill="#d8401c"/>
<circle cx="217" cy="924.3" r="1.6" fill="#d8401c"/>
<circle cx="224.8" cy="938.3" r="1.6" fill="#d8401c"/>
<circle cx="259.9" cy="955.1" r="1.6" fill="#d8401c"/>
<circle cx="261.9" cy="955.1" r="1.6" fill="#d8401c"/>
<text x="390.4" y="552.2" font-size="14.5" font-weight="bold" text-anchor="start" fill="#000" >E</text>
<text x="480.4" y="567.6" font-size="12" font-weight="bold" text-anchor="start" fill="#000" >LUAD</text>
<polyline points="442.1,588.7 442.1,740 551.5,740" fill="none" stroke="#000" stroke-width="1.6"/>
<line x1="435.6" y1="588.4" x2="442.1" y2="588.4" stroke="#000" stroke-width="1.5"/>
<text x="433.5" y="592.7" font-size="12" font-weight="bold" text-anchor="end" fill="#000" >20</text>
<line x1="435.6" y1="626.3" x2="442.1" y2="626.3" stroke="#000" stroke-width="1.5"/>
<text x="433.5" y="630.6" font-size="12" font-weight="bold" text-anchor="end" fill="#000" >15</text>
<line x1="435.6" y1="664.2" x2="442.1" y2="664.2" stroke="#000" stroke-width="1.5"/>
<text x="433.5" y="668.5" font-size="12" font-weight="bold" text-anchor="end" fill="#000" >10</text>
<line x1="435.6" y1="702.1" x2="442.1" y2="702.1" stroke="#000" stroke-width="1.5"/>
<text x="433.5" y="706.4" font-size="12" font-weight="bold" text-anchor="end" fill="#000" >5</text>
<line x1="435.6" y1="740.0" x2="442.1" y2="740.0" stroke="#000" stroke-width="1.5"/>
<text x="433.5" y="744.3" font-size="12" font-weight="bold" text-anchor="end" fill="#000" >0</text>
<text x="485.1" y="594.2" font-size="10" font-weight="bold" text-anchor="start" fill="#000" >0.062</text>
<polyline points="471.3,604.4 471.3,600.4 524.3,600.4 524.3,604.4" fill="none" stroke="#000" stroke-width="1.5"/>
<line x1="473.3" y1="622.5" x2="473.3" y2="733.9" stroke="#e0581c" stroke-width="1.6"/>
<line x1="466.1" y1="622.5" x2="480.5" y2="622.5" stroke="#e0581c" stroke-width="1.6"/>
<rect x="458.2" y="714.7" width="30.2" height="19.3" fill="#fff" stroke="#e0581c" stroke-width="1.6"/>
<line x1="458.2" y1="727.1" x2="488.40000000000003" y2="727.1" stroke="#e0581c" stroke-width="1.6"/>
<circle cx="473.3" cy="622.5" r="1.9" fill="#e0581c"/>
<circle cx="473.3" cy="674.8" r="1.9" fill="#e0581c"/>
<circle cx="470.8" cy="707.4" r="1.9" fill="#e0581c"/>
<circle cx="474.8" cy="707.4" r="1.9" fill="#e0581c"/>
<circle cx="471.8" cy="714.2" r="1.9" fill="#e0581c"/>
<circle cx="474.8" cy="714.2" r="1.9" fill="#e0581c"/>
<circle cx="473.3" cy="720.3" r="1.9" fill="#e0581c"/>
<circle cx="466.3" cy="727.1" r="1.9" fill="#e0581c"/>
<circle cx="469.1" cy="727.1" r="1.9" fill="#e0581c"/>
<circle cx="471.90000000000003" cy="727.1" r="1.9" fill="#e0581c"/>
<circle cx="474.7" cy="727.1" r="1.9" fill="#e0581c"/>
<circle cx="477.5" cy="727.1" r="1.9" fill="#e0581c"/>
<circle cx="480.3" cy="727.1" r="1.9" fill="#e0581c"/>
<circle cx="458.8" cy="733.9" r="1.9" fill="#e0581c"/>
<circle cx="462.02222222222224" cy="733.9" r="1.9" fill="#e0581c"/>
<circle cx="465.24444444444447" cy="733.9" r="1.9" fill="#e0581c"/>
<circle cx="468.4666666666667" cy="733.9" r="1.9" fill="#e0581c"/>
<circle cx="471.6888888888889" cy="733.9" r="1.9" fill="#e0581c"/>
<circle cx="474.9111111111111" cy="733.9" r="1.9" fill="#e0581c"/>
<circle cx="478.1333333333333" cy="733.9" r="1.9" fill="#e0581c"/>
<circle cx="481.35555555555555" cy="733.9" r="1.9" fill="#e0581c"/>
<circle cx="484.5777777777778" cy="733.9" r="1.9" fill="#e0581c"/>
<circle cx="487.8" cy="733.9" r="1.9" fill="#e0581c"/>
<line x1="473.3" y1="740" x2="473.3" y2="746" stroke="#000" stroke-width="1.5"/>
<text x="473.3" y="760.0" font-size="12" font-weight="bold" text-anchor="middle" fill="#000" >MT</text>
<line x1="520.4" y1="707.0" x2="520.4" y2="740.0" stroke="#1c3c9c" stroke-width="1.6"/>
<line x1="512.8" y1="707.0" x2="528.0" y2="707.0" stroke="#1c3c9c" stroke-width="1.6"/>
<rect x="505.29999999999995" y="721.0" width="30.2" height="11.7" fill="#fff" stroke="#1c3c9c" stroke-width="1.6"/>
<line x1="505.29999999999995" y1="727.1" x2="535.5" y2="727.1" stroke="#1c3c9c" stroke-width="1.6"/>
<circle cx="516.4" cy="713.5" r="1.9" fill="#1c3c9c"/>
<circle cx="520.4" cy="713.5" r="1.9" fill="#1c3c9c"/>
<circle cx="524.4" cy="713.5" r="1.9" fill="#1c3c9c"/>
<circle cx="512.9" cy="719.5" r="1.9" fill="#1c3c9c"/>
<circle cx="515.4" cy="719.5" r="1.9" fill="#1c3c9c"/>
<circle cx="517.9" cy="719.5" r="1.9" fill="#1c3c9c"/>
<circle cx="520.4" cy="719.5" r="1.9" fill="#1c3c9c"/>
<circle cx="522.9" cy="719.5" r="1.9" fill="#1c3c9c"/>
<circle cx="525.4" cy="719.5" r="1.9" fill="#1c3c9c"/>
<circle cx="527.9" cy="719.5" r="1.9" fill="#1c3c9c"/>
<circle cx="506.4" cy="727.1" r="1.9" fill="#1c3c9c"/>
<circle cx="509.51111111111106" cy="727.1" r="1.9" fill="#1c3c9c"/>
<circle cx="512.6222222222221" cy="727.1" r="1.9" fill="#1c3c9c"/>
<circle cx="515.7333333333333" cy="727.1" r="1.9" fill="#1c3c9c"/>
<circle cx="518.8444444444444" cy="727.1" r="1.9" fill="#1c3c9c"/>
<circle cx="521.9555555555555" cy="727.1" r="1.9" fill="#1c3c9c"/>
<circle cx="525.0666666666666" cy="727.1" r="1.9" fill="#1c3c9c"/>
<circle cx="528.1777777777778" cy="727.1" r="1.9" fill="#1c3c9c"/>
<circle cx="531.2888888888889" cy="727.1" r="1.9" fill="#1c3c9c"/>
<circle cx="534.4" cy="727.1" r="1.9" fill="#1c3c9c"/>
<circle cx="506.4" cy="732.4" r="1.9" fill="#1c3c9c"/>
<circle cx="509.51111111111106" cy="732.4" r="1.9" fill="#1c3c9c"/>
<circle cx="512.6222222222221" cy="732.4" r="1.9" fill="#1c3c9c"/>
<circle cx="515.7333333333333" cy="732.4" r="1.9" fill="#1c3c9c"/>
<circle cx="518.8444444444444" cy="732.4" r="1.9" fill="#1c3c9c"/>
<circle cx="521.9555555555555" cy="732.4" r="1.9" fill="#1c3c9c"/>
<circle cx="525.0666666666666" cy="732.4" r="1.9" fill="#1c3c9c"/>
<circle cx="528.1777777777778" cy="732.4" r="1.9" fill="#1c3c9c"/>
<circle cx="531.2888888888889" cy="732.4" r="1.9" fill="#1c3c9c"/>
<circle cx="534.4" cy="732.4" r="1.9" fill="#1c3c9c"/>
<circle cx="511.9" cy="740.0" r="1.9" fill="#1c3c9c"/>
<circle cx="515.3" cy="740.0" r="1.9" fill="#1c3c9c"/>
<circle cx="518.6999999999999" cy="740.0" r="1.9" fill="#1c3c9c"/>
<circle cx="522.1" cy="740.0" r="1.9" fill="#1c3c9c"/>
<circle cx="525.5" cy="740.0" r="1.9" fill="#1c3c9c"/>
<circle cx="528.9" cy="740.0" r="1.9" fill="#1c3c9c"/>
<line x1="520.4" y1="740" x2="520.4" y2="746" stroke="#000" stroke-width="1.5"/>
<text x="520.4" y="760.0" font-size="12" font-weight="bold" text-anchor="middle" fill="#000" >WT</text>
<text x="553.5" y="576.3" font-size="12.3" font-weight="bold" text-anchor="start" fill="#000" >PAM-exausted Status</text>
<rect x="552.6" y="596.3" width="15.7" height="7" fill="none" stroke="#e0581c" stroke-width="1.6"/>
<text x="578.7" y="604.3" font-size="12" font-weight="bold" text-anchor="start" fill="#000" >MT</text>
<rect x="552.6" y="617" width="15.7" height="7.1" fill="none" stroke="#1c3c9c" stroke-width="1.6"/>
<text x="578.7" y="624.5" font-size="12" font-weight="bold" text-anchor="start" fill="#000" >WT</text>
<text x="0" y="0" font-size="12.4" font-weight="bold" text-anchor="middle" fill="#000" transform="translate(413.4 663.6) rotate(-90)">TMB</text>
<text x="398.8" y="791.4" font-size="14.5" font-weight="bold" text-anchor="start" fill="#000" >F</text>
<text x="481.2" y="816.4" font-size="13" font-weight="bold" text-anchor="start" fill="#000" >MIA/AIS</text>
<polyline points="445.2,838.3 445.2,997.2 568,997.2" fill="none" stroke="#000" stroke-width="1.6"/>
<line x1="438.7" y1="838.3" x2="445.2" y2="838.3" stroke="#000" stroke-width="1.5"/>
<text x="436.6" y="843.0" font-size="13" font-weight="bold" text-anchor="end" fill="#000" >8</text>
<line x1="438.7" y1="878.0" x2="445.2" y2="878.0" stroke="#000" stroke-width="1.5"/>
<text x="436.6" y="882.7" font-size="13" font-weight="bold" text-anchor="end" fill="#000" >6</text>
<line x1="438.7" y1="917.8" x2="445.2" y2="917.8" stroke="#000" stroke-width="1.5"/>
<text x="436.6" y="922.4" font-size="13" font-weight="bold" text-anchor="end" fill="#000" >4</text>
<line x1="438.7" y1="957.5" x2="445.2" y2="957.5" stroke="#000" stroke-width="1.5"/>
<text x="436.6" y="962.2" font-size="13" font-weight="bold" text-anchor="end" fill="#000" >2</text>
<line x1="438.7" y1="997.2" x2="445.2" y2="997.2" stroke="#000" stroke-width="1.5"/>
<text x="436.6" y="1001.9" font-size="13" font-weight="bold" text-anchor="end" fill="#000" >0</text>
<text x="489.6" y="845.7" font-size="10" font-weight="bold" text-anchor="start" fill="#000" >0.065</text>
<polyline points="477.8,856 477.8,853 525.3,853 525.3,856" fill="none" stroke="#000" stroke-width="1.5"/>
<line x1="480.0" y1="877.0" x2="480.0" y2="997.2" stroke="#e0581c" stroke-width="1.6"/>
<line x1="471.8" y1="877.0" x2="488.2" y2="877.0" stroke="#e0581c" stroke-width="1.6"/>
<rect x="463.4" y="963.4" width="33.2" height="16.5" fill="#fff" stroke="#e0581c" stroke-width="1.6"/>
<line x1="463.4" y1="979.9" x2="496.6" y2="979.9" stroke="#e0581c" stroke-width="1.6"/>
<circle cx="480.0" cy="877.0" r="1.9" fill="#e0581c"/>
<circle cx="480.0" cy="911.8" r="1.9" fill="#e0581c"/>
<circle cx="478.0" cy="945.6" r="1.9" fill="#e0581c"/>
<circle cx="480.0" cy="945.6" r="1.9" fill="#e0581c"/>
<circle cx="482.0" cy="945.6" r="1.9" fill="#e0581c"/>
<circle cx="474.5" cy="963.4" r="1.9" fill="#e0581c"/>
<circle cx="477.25" cy="963.4" r="1.9" fill="#e0581c"/>
<circle cx="480.0" cy="963.4" r="1.9" fill="#e0581c"/>
<circle cx="482.75" cy="963.4" r="1.9" fill="#e0581c"/>
<circle cx="485.5" cy="963.4" r="1.9" fill="#e0581c"/>
<circle cx="463.5" cy="979.9" r="1.9" fill="#e0581c"/>
<circle cx="466.03846153846155" cy="979.9" r="1.9" fill="#e0581c"/>
<circle cx="468.5769230769231" cy="979.9" r="1.9" fill="#e0581c"/>
<circle cx="471.11538461538464" cy="979.9" r="1.9" fill="#e0581c"/>
<circle cx="473.65384615384613" cy="979.9" r="1.9" fill="#e0581c"/>
<circle cx="476.1923076923077" cy="979.9" r="1.9" fill="#e0581c"/>
<circle cx="478.7307692307692" cy="979.9" r="1.9" fill="#e0581c"/>
<circle cx="481.2692307692308" cy="979.9" r="1.9" fill="#e0581c"/>
<circle cx="483.8076923076923" cy="979.9" r="1.9" fill="#e0581c"/>
<circle cx="486.34615384615387" cy="979.9" r="1.9" fill="#e0581c"/>
<circle cx="488.88461538461536" cy="979.9" r="1.9" fill="#e0581c"/>
<circle cx="491.4230769230769" cy="979.9" r="1.9" fill="#e0581c"/>
<circle cx="493.96153846153845" cy="979.9" r="1.9" fill="#e0581c"/>
<circle cx="496.5" cy="979.9" r="1.9" fill="#e0581c"/>
<circle cx="473.0" cy="997.2" r="1.9" fill="#e0581c"/>
<circle cx="476.5" cy="997.2" r="1.9" fill="#e0581c"/>
<circle cx="480.0" cy="997.2" r="1.9" fill="#e0581c"/>
<circle cx="483.5" cy="997.2" r="1.9" fill="#e0581c"/>
<circle cx="487.0" cy="997.2" r="1.9" fill="#e0581c"/>
<line x1="480.0" y1="997.2" x2="480.0" y2="1003.2" stroke="#000" stroke-width="1.5"/>
<text x="480.0" y="1018.2" font-size="13" font-weight="bold" text-anchor="middle" fill="#000" >MT</text>
<line x1="532.2" y1="911.8" x2="532.2" y2="997.2" stroke="#1c3c9c" stroke-width="1.6"/>
<line x1="524.0" y1="911.8" x2="540.4000000000001" y2="911.8" stroke="#1c3c9c" stroke-width="1.6"/>
<rect x="515.7" y="972.2" width="33.0" height="25.0" fill="#fff" stroke="#1c3c9c" stroke-width="1.6"/>
<line x1="515.7" y1="979.9" x2="548.7" y2="979.9" stroke="#1c3c9c" stroke-width="3.2"/>
<circle cx="530.2" cy="945.6" r="1.9" fill="#1c3c9c"/>
<circle cx="532.2" cy="945.6" r="1.9" fill="#1c3c9c"/>
<circle cx="534.2" cy="945.6" r="1.9" fill="#1c3c9c"/>
<circle cx="525.7" cy="963.4" r="1.9" fill="#1c3c9c"/>
<circle cx="528.3000000000001" cy="963.4" r="1.9" fill="#1c3c9c"/>
<circle cx="530.9000000000001" cy="963.4" r="1.9" fill="#1c3c9c"/>
<circle cx="533.5" cy="963.4" r="1.9" fill="#1c3c9c"/>
<circle cx="536.1" cy="963.4" r="1.9" fill="#1c3c9c"/>
<circle cx="538.7" cy="963.4" r="1.9" fill="#1c3c9c"/>
<circle cx="516.7" cy="979.9" r="1.9" fill="#1c3c9c"/>
<circle cx="519.5181818181819" cy="979.9" r="1.9" fill="#1c3c9c"/>
<circle cx="522.3363636363637" cy="979.9" r="1.9" fill="#1c3c9c"/>
<circle cx="525.1545454545455" cy="979.9" r="1.9" fill="#1c3c9c"/>
<circle cx="527.9727272727273" cy="979.9" r="1.9" fill="#1c3c9c"/>
<circle cx="530.7909090909092" cy="979.9" r="1.9" fill="#1c3c9c"/>
<circle cx="533.6090909090909" cy="979.9" r="1.9" fill="#1c3c9c"/>
<circle cx="536.4272727272728" cy="979.9" r="1.9" fill="#1c3c9c"/>
<circle cx="539.2454545454545" cy="979.9" r="1.9" fill="#1c3c9c"/>
<circle cx="542.0636363636364" cy="979.9" r="1.9" fill="#1c3c9c"/>
<circle cx="544.8818181818182" cy="979.9" r="1.9" fill="#1c3c9c"/>
<circle cx="547.7" cy="979.9" r="1.9" fill="#1c3c9c"/>
<circle cx="516.7" cy="997.2" r="1.9" fill="#1c3c9c"/>
<circle cx="519.5181818181819" cy="997.2" r="1.9" fill="#1c3c9c"/>
<circle cx="522.3363636363637" cy="997.2" r="1.9" fill="#1c3c9c"/>
<circle cx="525.1545454545455" cy="997.2" r="1.9" fill="#1c3c9c"/>
<circle cx="527.9727272727273" cy="997.2" r="1.9" fill="#1c3c9c"/>
<circle cx="530.7909090909092" cy="997.2" r="1.9" fill="#1c3c9c"/>
<circle cx="533.6090909090909" cy="997.2" r="1.9" fill="#1c3c9c"/>
<circle cx="536.4272727272728" cy="997.2" r="1.9" fill="#1c3c9c"/>
<circle cx="539.2454545454545" cy="997.2" r="1.9" fill="#1c3c9c"/>
<circle cx="542.0636363636364" cy="997.2" r="1.9" fill="#1c3c9c"/>
<circle cx="544.8818181818182" cy="997.2" r="1.9" fill="#1c3c9c"/>
<circle cx="547.7" cy="997.2" r="1.9" fill="#1c3c9c"/>
<line x1="532.2" y1="997.2" x2="532.2" y2="1003.2" stroke="#000" stroke-width="1.5"/>
<text x="532.2" y="1018.2" font-size="13" font-weight="bold" text-anchor="middle" fill="#000" >WT</text>
<text x="553.5" y="833.6" font-size="13" font-weight="bold" text-anchor="start" fill="#000" >PAM-exausted Status</text>
<rect x="556.3" y="850.4" width="17" height="7.4" fill="none" stroke="#e0581c" stroke-width="1.6"/>
<text x="583.0" y="859.3" font-size="13.2" font-weight="bold" text-anchor="start" fill="#000" >MT</text>
<rect x="556.3" y="872.6" width="17" height="7.6" fill="none" stroke="#1c3c9c" stroke-width="1.6"/>
<text x="583.0" y="881.7" font-size="13.2" font-weight="bold" text-anchor="start" fill="#000" >WT</text>
<text x="0" y="0" font-size="13" font-weight="bold" text-anchor="middle" fill="#000" transform="translate(406.2 916.7) rotate(-90)">TMB</text>
</svg>
</body></html>
